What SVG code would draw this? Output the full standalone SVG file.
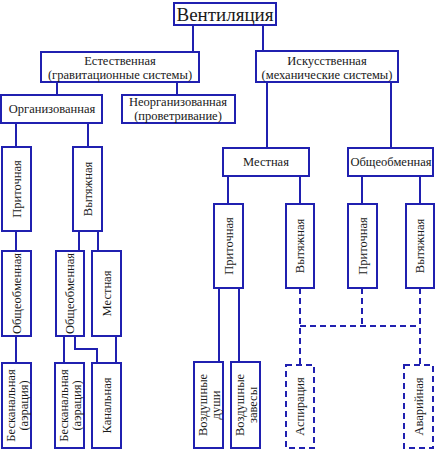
<svg xmlns="http://www.w3.org/2000/svg" width="436" height="450" viewBox="0 0 436 450">
<style>
.b{fill:#fff;stroke:#2020b0;stroke-width:2}
.d{fill:#fff;stroke:#2020b0;stroke-width:2;stroke-dasharray:6 4}
.l{fill:none;stroke:#2020b0;stroke-width:2}
.dl{fill:none;stroke:#2020b0;stroke-width:2;stroke-dasharray:6 4}
text{fill:#1a1a1a;text-anchor:middle;dominant-baseline:central}
</style>
<rect width="436" height="450" fill="#fff"/>
<g id="connectors">
<path class="l" d="M193 25V52M263 25V51"/>
<path class="l" d="M57 82V95M177 82V95"/>
<path class="l" d="M267 82V148M391 82V148"/>
<path class="l" d="M16 123V147M88 123V147"/>
<path class="l" d="M16 231V251M79 231V251M98 231V251"/>
<path class="l" d="M16 336V363M64 336V363M75 336V349H97V363M116 336V363"/>
<path class="l" d="M228 176V204M300 176V204M362 176V204M420 176V204"/>
<path class="l" d="M219 288V362M239 288V362"/>
<path class="dl" d="M300 288V365M362 288V326M420 288V365M300 326H420"/>
</g>
<g id="nodes" font-family="Liberation Serif, DejaVu Serif, serif" font-size="12.5">
<g id="n-vent"><rect class="b" x="174" y="3" width="102" height="22"/><text x="225" y="14" font-size="19">Вентиляция</text></g>
<g id="n-est"><rect class="b" x="41" y="52" width="158" height="30"/><text x="120" y="61">Естественная</text><text x="120" y="75">(гравитационные системы)</text></g>
<g id="n-isk"><rect class="b" x="256" y="51" width="142" height="31"/><text x="327" y="61">Искусственная</text><text x="327" y="75">(механические системы)</text></g>
<g id="n-org"><rect class="b" x="1" y="95" width="101" height="28"/><text x="52" y="109">Организованная</text></g>
<g id="n-neorg"><rect class="b" x="122" y="95" width="113" height="28"/><text x="178" y="102">Неорганизованная</text><text x="178" y="116">(проветривание)</text></g>
<g id="n-mest"><rect class="b" x="223" y="148" width="86" height="28"/><text x="266" y="162">Местная</text></g>
<g id="n-obsh"><rect class="b" x="348" y="148" width="85" height="28"/><text x="391" y="162">Общеобменная</text></g>
<g id="n-prit1"><rect class="b" x="2" y="147" width="29" height="84"/><text transform="translate(16.5 189) rotate(-90)">Приточная</text></g>
<g id="n-vyt1"><rect class="b" x="73" y="147" width="29" height="84"/><text transform="translate(87.5 189) rotate(-90)">Вытяжная</text></g>
<g id="n-obsh1"><rect class="b" x="2" y="251" width="29" height="85"/><text transform="translate(16.5 293.5) rotate(-90)">Общеобменная</text></g>
<g id="n-obsh2"><rect class="b" x="56" y="251" width="28" height="85"/><text transform="translate(70 293.5) rotate(-90)">Общеобменная</text></g>
<g id="n-mest1"><rect class="b" x="92" y="251" width="29" height="85"/><text transform="translate(106.5 293.5) rotate(-90)">Местная</text></g>
<g id="n-besk1"><rect class="b" x="2" y="363" width="29" height="85"/><text transform="translate(16.5 405.5) rotate(-90)"><tspan x="0" y="-6">Бесканальная</tspan><tspan x="0" y="7">(аэрация)</tspan></text></g>
<g id="n-besk2"><rect class="b" x="55" y="363" width="29" height="85"/><text transform="translate(69.5 405.5) rotate(-90)"><tspan x="0" y="-6">Бесканальная</tspan><tspan x="0" y="7">(аэрация)</tspan></text></g>
<g id="n-kan"><rect class="b" x="92" y="363" width="29" height="85"/><text transform="translate(106.5 405.5) rotate(-90)">Канальная</text></g>
<g id="n-prit2"><rect class="b" x="214" y="204" width="29" height="84"/><text transform="translate(228.5 246) rotate(-90)">Приточная</text></g>
<g id="n-vyt2"><rect class="b" x="286" y="204" width="28" height="84"/><text transform="translate(300 246) rotate(-90)">Вытяжная</text></g>
<g id="n-prit3"><rect class="b" x="348" y="204" width="29" height="84"/><text transform="translate(362.5 246) rotate(-90)">Приточная</text></g>
<g id="n-vyt3"><rect class="b" x="406" y="204" width="28" height="84"/><text transform="translate(420 246) rotate(-90)">Вытяжная</text></g>
<g id="n-dushi"><rect class="b" x="194" y="362" width="29" height="86"/><text transform="translate(208.5 405) rotate(-90)"><tspan x="0" y="-6">Воздушные</tspan><tspan x="0" y="7">души</tspan></text></g>
<g id="n-zavesy"><rect class="b" x="231" y="362" width="29" height="86"/><text transform="translate(245.5 405) rotate(-90)"><tspan x="0" y="-6">Воздушные</tspan><tspan x="0" y="7">завесы</tspan></text></g>
<g id="n-asp"><rect class="d" x="286" y="365" width="28" height="83"/><text transform="translate(300 406.5) rotate(-90)">Аспирация</text></g>
<g id="n-avar"><rect class="d" x="404" y="365" width="29" height="83"/><text transform="translate(418.5 406.5) rotate(-90)">Аварийная</text></g>
</g>
</svg>
